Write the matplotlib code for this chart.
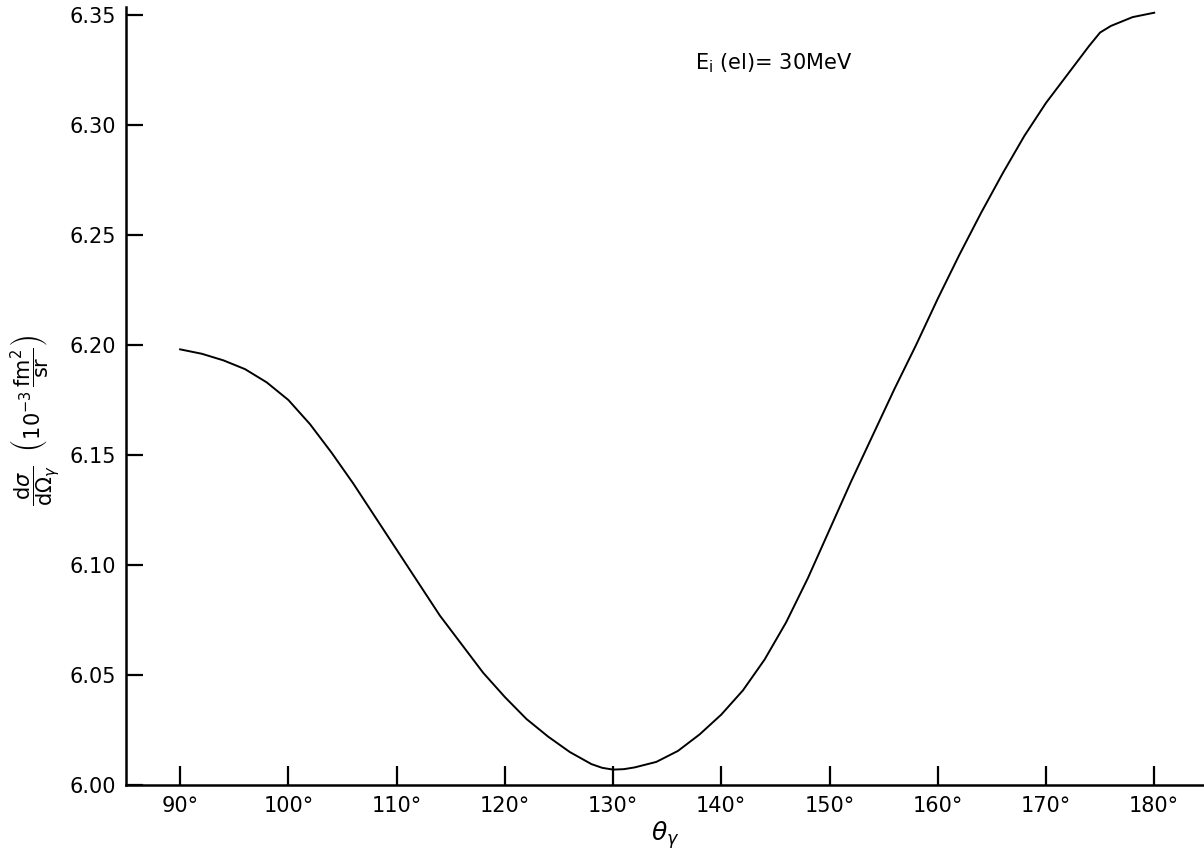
import matplotlib
matplotlib.use('Agg')
import matplotlib.pyplot as plt

# curve
theta_deg = [90, 92, 94, 96, 98, 100, 102, 104, 106, 108,
             110, 112, 114, 116, 118, 120, 122, 124, 126, 128,
             129, 130, 131, 132, 134, 136, 138, 140, 142, 144,
             146, 148, 150, 152, 154, 156, 158, 160, 162, 164,
             166, 168, 170, 172, 174, 175, 176, 178, 180]
cross_section = [6.198, 6.196, 6.193, 6.189, 6.183, 6.175, 6.164, 6.151, 6.137, 6.122,
                 6.107, 6.092, 6.077, 6.064, 6.051, 6.040, 6.030, 6.022, 6.015, 6.0095,
                 6.0078, 6.007, 6.0072, 6.008, 6.0105, 6.0155, 6.023, 6.032, 6.043, 6.057,
                 6.074, 6.094, 6.116, 6.138, 6.159, 6.180, 6.200, 6.221, 6.241, 6.260,
                 6.278, 6.295, 6.310, 6.323, 6.336, 6.342, 6.345, 6.349, 6.351]

x_ticks = [90, 100, 110, 120, 130, 140, 150, 160, 170, 180]
y_ticks = [6.00, 6.05, 6.10, 6.15, 6.20, 6.25, 6.30, 6.35]

fig = plt.figure(figsize=(12.04, 8.55), dpi=100)
ax = fig.add_axes([126 / 1204, 70 / 855, 1 - 126 / 1204, 778 / 855])

ax.plot(theta_deg, cross_section, color='black', linewidth=1.4)

ax.set_xlim(85.0, 184.6)
ax.set_ylim(6.00, 6.3536)

ax.spines['top'].set_visible(False)
ax.spines['right'].set_visible(False)
for side in ('left', 'bottom'):
    ax.spines[side].set_linewidth(1.8)

ax.set_xticks(x_ticks)
ax.set_xticklabels([f'{t}°' for t in x_ticks])
ax.set_yticks(y_ticks)
ax.set_yticklabels([f'{v:.2f}' for v in y_ticks])
ax.tick_params(axis='both', direction='in', width=1.6, labelsize=15)
ax.tick_params(axis='x', length=14, pad=8)
ax.tick_params(axis='y', length=12, pad=7)

ax.set_xlabel(r'$\theta_\gamma$', fontsize=18, labelpad=2)
fig.text(36 / 1204, 1 - 420 / 855,
         r'$\dfrac{\mathrm{d}\sigma}{\mathrm{d}\Omega_\gamma}\ \ '
         r'\left(10^{-3}\,\dfrac{\mathrm{fm}^2}{\mathrm{sr}}\right)$',
         rotation=90, ha='center', va='center', fontsize=15)

ax.text(137.6, 6.328, r'E$_{\rm i}$ (el)= 30MeV', fontsize=15, ha='left', va='center')

fig.savefig('out.png', dpi=100)
